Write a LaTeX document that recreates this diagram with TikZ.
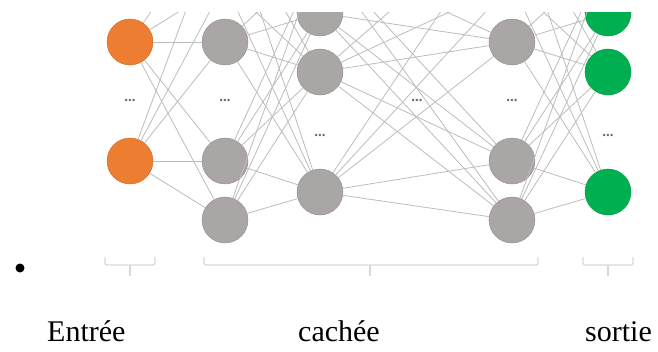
\documentclass[tikz,border=0pt]{standalone}
\usepackage{fontspec}
\setmainfont{Liberation Serif}
\definecolor{coulEntree}{HTML}{ED7D31}
\definecolor{coulCache}{HTML}{AAA6A5}
\definecolor{coulSortie}{HTML}{00B050}
\definecolor{coulLien}{HTML}{BCBCBC}
\definecolor{coulAccolade}{HTML}{D8D8D8}
\definecolor{coulPoints}{HTML}{66707F}
\tikzset{
  neurone/.style = {circle, minimum size = 46pt, inner sep = 0pt, draw = #1!85!black, line width = 0.4pt, fill = #1},
  lien/.style = {draw = coulLien, line width = 0.8pt},
  points/.style = {text = coulPoints, font = \fontsize{15}{15}\selectfont\bfseries},
  accolade/.style = {draw = coulAccolade, line width = 1.4pt, rounded corners = 2pt},
  etiquette/.style = {anchor = base west, inner sep = 0pt, font = \fontsize{30}{36}\selectfont}
}
\begin{document}
\begin{tikzpicture}[x = 1pt, y = -1pt]
	\useasboundingbox (0, 0) rectangle (658, 351);
	\begin{scope}
		\clip (0, 12) rectangle (658, 351);
		% the layers
		\foreach \y [count = \i] in {42, 161}
			\node[neurone = coulEntree] (a\i) at (130, \y) {};
		\foreach \y [count = \i] in {-95, -17, 42, 161, 220}
			\node[neurone = coulCache] (b\i) at (225, \y) {};
		\foreach \y [count = \i] in {-46, 13, 72, 192}
			\node[neurone = coulCache] (c\i) at (320, \y) {};
		\foreach \y [count = \i] in {-95, -17, 42, 161, 220}
			\node[neurone = coulCache] (d\i) at (512, \y) {};
		\foreach \y [count = \i] in {-46, 13, 72, 192}
			\node[neurone = coulSortie] (e\i) at (608, \y) {};
		% the links
		\foreach \i in {1, 2}
			\foreach \j in {1, ..., 5}
				\draw[lien] (a\i) -- (b\j);
		\foreach \i in {1, ..., 5}
			\foreach \j in {1, ..., 4}
				\draw[lien] (b\i) -- (c\j);
		\foreach \i in {1, ..., 4}
			\foreach \j in {1, ..., 5}
				\draw[lien] (c\i) -- (d\j);
		\foreach \i in {1, ..., 5}
			\foreach \j in {1, ..., 4}
				\draw[lien] (d\i) -- (e\j);
	\end{scope}
	% the dots
	\node[points] (pa) at (130, 100) {...};
	\node[points] (pb) at (225, 100) {...};
	\node[points] (pc) at (320, 135) {...};
	\node[points] (pm) at (417, 100) {...};
	\node[points] (pd) at (512, 100) {...};
	\node[points] (pe) at (608, 135) {...};
	% the braces
	\draw[accolade] (105, 257) -- (105, 265) -- (155, 265) -- (155, 257);
	\draw[accolade] (130, 265) -- (130, 276);
	\draw[accolade] (204, 257) -- (204, 265) -- (538, 265) -- (538, 257);
	\draw[accolade] (370, 265) -- (370, 276);
	\draw[accolade] (583, 257) -- (583, 265) -- (633, 265) -- (633, 257);
	\draw[accolade] (608, 265) -- (608, 276);
	% the bullet and the labels
	\node[circle, fill, inner sep = 0pt, minimum size = 9pt] (puce) at (20, 268) {};
	\node[etiquette] (lblEntree) at (47, 341) {Entrée};
	\node[etiquette] (lblCachee) at (298, 341) {cachée};
	\node[etiquette] (lblSortie) at (585, 341) {sortie};
\end{tikzpicture}
\end{document}
